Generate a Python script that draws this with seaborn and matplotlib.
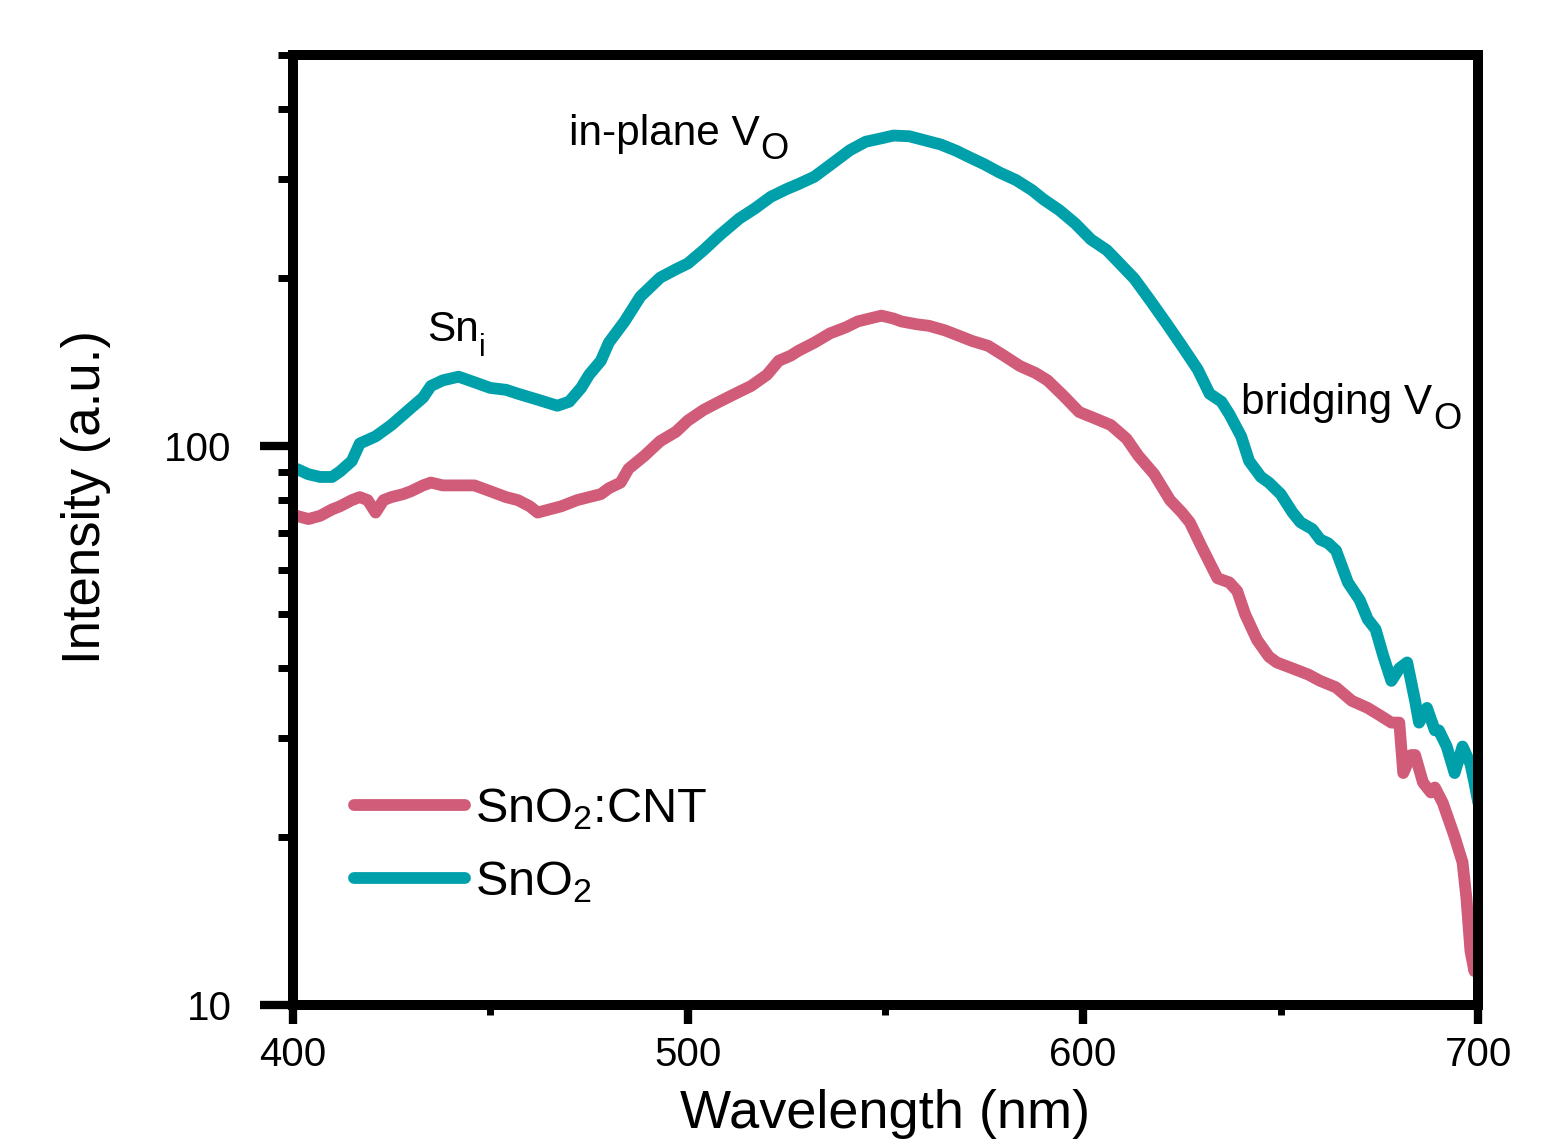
import numpy as np
import pandas as pd
import matplotlib
matplotlib.use('Agg')
import matplotlib.pyplot as plt
import matplotlib.ticker as mticker
import seaborn as sns

# Dados (PL, escala log)
wl_sno2 = [401, 404, 407, 410, 412, 415, 417, 421, 425, 430, 433, 435, 438, 442, 446, 450,
           454, 457, 462, 467, 470, 473, 475, 478, 480, 484, 488, 493, 497, 500, 504, 508,
           513, 517, 521, 525, 528, 532, 536, 541, 545, 549, 552, 556, 560, 564, 568, 571,
           575, 579, 583, 587, 590, 594, 598, 602, 606, 609, 613, 617, 621, 625, 629, 632,
           635, 637, 640, 642, 645, 647, 650, 653, 655, 658, 660, 662, 664, 667, 670, 672,
           674, 676, 678, 680, 682, 684, 685, 687, 689, 690, 692, 694, 696, 698, 699, 700]
int_sno2 = [91, 89, 88, 88, 90, 94, 101, 104, 109, 117, 122, 128, 131, 133, 130, 127,
            126, 124, 121, 118, 120, 127, 134, 142, 153, 167, 185, 200, 207, 212, 224, 238,
            255, 266, 279, 288, 294, 303, 318, 338, 350, 355, 359, 358, 352, 346, 337, 329,
            319, 308, 299, 287, 276, 264, 250, 234, 224, 213, 199, 182, 166, 151, 137, 124,
            120, 114, 104, 94, 88, 86, 82, 76, 73, 71, 68, 67, 65, 57, 53, 49,
            47, 42, 38, 40, 41, 35, 32, 34, 31, 31, 29, 26, 29, 27, 25, 23]

wl_cnt = [401, 404, 407, 410, 412, 415, 417, 419, 421, 423, 425, 428, 430, 433, 435, 438,
          442, 446, 450, 454, 457, 460, 462, 465, 468, 472, 475, 478, 480, 483, 485, 489,
          493, 497, 500, 504, 508, 512, 516, 520, 523, 526, 528, 532, 536, 540, 543, 546,
          549, 552, 554, 558, 561, 565, 569, 572, 576, 580, 584, 588, 591, 595, 599, 603,
          607, 611, 614, 618, 622, 625, 627, 630, 634, 637, 639, 641, 644, 647, 649, 653,
          657, 660, 664, 668, 672, 675, 678, 680, 681, 683, 684, 686, 688, 689, 691, 694,
          696, 697, 698, 699, 699.5, 700]
int_cnt = [75, 74, 75, 77, 78, 80, 81, 80, 76, 80, 81, 82, 83, 85, 86, 85,
           85, 85, 83, 81, 80, 78, 76, 77, 78, 80, 81, 82, 84, 86, 91, 96,
           102, 106, 111, 116, 120, 124, 128, 134, 142, 145, 148, 153, 159, 163, 167, 169,
           171, 169, 167, 165, 164, 161, 157, 154, 151, 145, 139, 135, 131, 123, 115, 112,
           109, 103, 96, 89, 80, 76, 73, 66, 58, 57, 55, 50, 45, 42, 41, 40,
           39, 38, 37, 35, 34, 33, 32, 32, 26, 28, 28, 25, 24, 24.5, 23, 20,
           18, 15.5, 12.5, 11.5, 13.5, 12]

series_names = ['SnO$_2$:CNT', 'SnO$_2$']
series_colors = ['#D05C79', '#00A0AA']

df = pd.concat([
    pd.DataFrame({'wl': wl_cnt, 'I': int_cnt, 'amostra': series_names[0]}),
    pd.DataFrame({'wl': wl_sno2, 'I': int_sno2, 'amostra': series_names[1]}),
])

sns.set_style('white')
plt.rcParams['font.family'] = ['Liberation Sans', 'DejaVu Sans']
plt.rcParams['mathtext.fontset'] = 'custom'
plt.rcParams['mathtext.rm'] = 'Liberation Sans'
plt.rcParams['mathtext.it'] = 'Liberation Sans'
plt.rcParams['text.color'] = 'black'
plt.rcParams['axes.labelcolor'] = 'black'
plt.rcParams['xtick.color'] = 'black'
plt.rcParams['ytick.color'] = 'black'

fig = plt.figure(figsize=(15.48, 11.39), dpi=100)
ax = fig.add_axes([0.189, 0.1176, 0.766, 0.834])

sns.lineplot(data=df, x='wl', y='I', hue='amostra', hue_order=series_names,
             palette=series_colors, estimator=None, sort=False, linewidth=8.5, ax=ax)

ax.set_yscale('log')
ax.set_xlim(400, 700)
ax.set_ylim(10, 500)

# Eixos
for s in ax.spines.values():
    s.set_linewidth(7.2)
    s.set_color('black')

ax.set_xticks([400, 500, 600, 700])
ax.xaxis.set_minor_locator(mticker.FixedLocator([450, 550, 650]))
ax.set_yticks([10, 100])
ax.set_yticklabels(['10', '100'])
ax.yaxis.set_minor_locator(mticker.LogLocator(base=10, subs=np.arange(2, 10)))
ax.yaxis.set_minor_formatter(mticker.NullFormatter())

ax.tick_params(axis='y', which='major', direction='out', length=24, width=6, labelsize=29, pad=20, left=True)
ax.tick_params(axis='y', which='minor', direction='out', length=11, width=5, left=True)
ax.tick_params(axis='x', which='major', direction='out', length=14, width=6, labelsize=29, pad=8, bottom=True)
ax.tick_params(axis='x', which='minor', direction='out', length=7, width=5, bottom=True)

ax.set_xlabel('Wavelength (nm)', fontsize=39, labelpad=11)
ax.set_ylabel('Intensity (a.u.)', fontsize=38)
ax.yaxis.set_label_coords(-0.153, 0.535)

# Anotações (subscrito maior, como no original)
def rotulo(x, y, texto, sub, tam_sub):
    t = ax.text(x, y, texto, fontsize=30.5, ha='left', va='baseline')
    ax.annotate(sub, xy=(1, 0), xycoords=t, xytext=(0.5, -4), textcoords='offset points',
                fontsize=tam_sub, ha='left', va='baseline')

rotulo(470, 346, 'in-plane V', 'O', 26)
rotulo(434, 154, 'Sn', 'i', 22)
rotulo(640, 114, 'bridging V', 'O', 26)

# Legenda
handles, labels = ax.get_legend_handles_labels()
ax.legend(handles, labels, loc='lower left', bbox_to_anchor=(0.035, 0.085), frameon=False,
          fontsize=35, handlelength=2.3, handletextpad=0.2, labelspacing=0.55,
          borderaxespad=0)

fig.savefig('out.png', dpi=100)
